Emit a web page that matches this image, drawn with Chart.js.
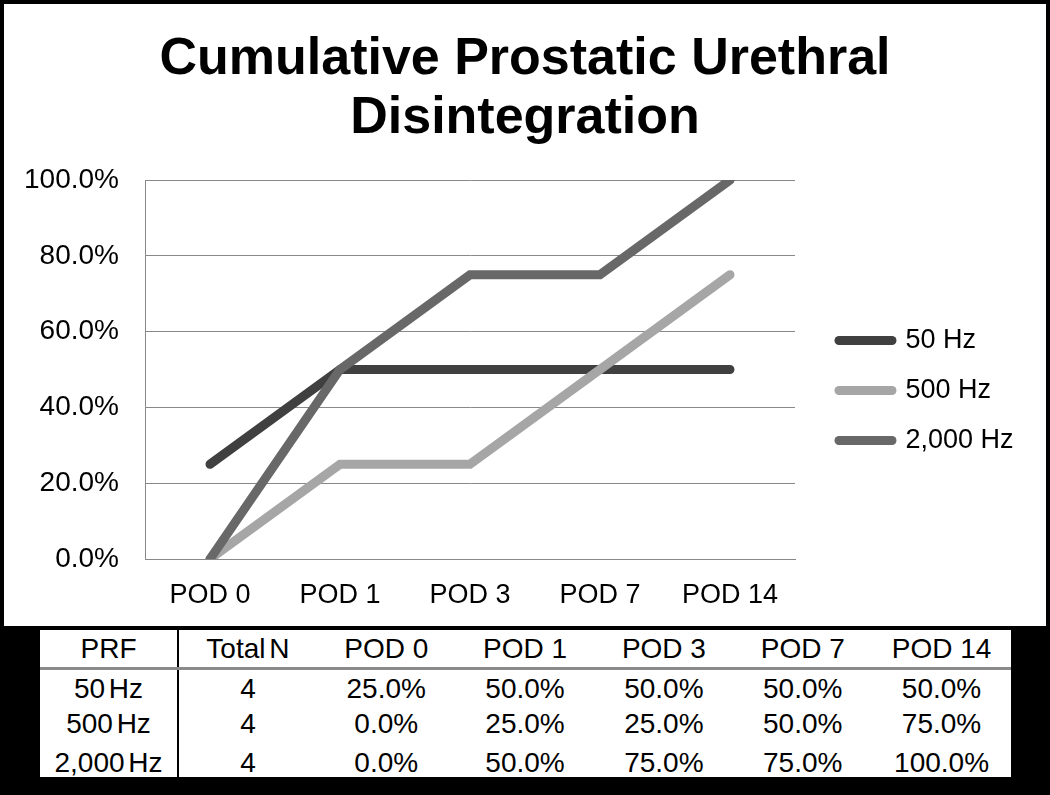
<!DOCTYPE html>
<html><head><meta charset="utf-8">
<script src="https://cdn.jsdelivr.net/npm/chart.js@4.4.1/dist/chart.umd.min.js"></script>
<style>
html,body{margin:0;padding:0;background:#000;width:1050px;height:795px;overflow:hidden;font-family:'Liberation Sans',Arial,sans-serif;}
#panel{position:absolute;left:4px;top:4px;width:1042px;height:622px;background:#fff;}
#tblwrap{position:absolute;left:40px;top:630px;width:971px;height:147px;background:#fff;}
#tbl{width:100%;border-collapse:collapse;table-layout:fixed;font-size:28px;color:#000;}
#tbl td{padding:0;text-align:center;vertical-align:middle;white-space:nowrap;box-sizing:border-box;}
#tbl td.c0,#tbl td.c1{word-spacing:-4px;}
#tbl tr.h td{height:38px;padding-top:2px;border-bottom:3px solid #8a8a8a;}
#tbl tr.r td{height:36px;padding-top:3px;}
#tbl tr.r:last-child td{padding-top:6px;}
#tbl td.c0{border-right:2px solid #000;width:138px;}
</style></head>
<body>
<div id="panel"><canvas id="c" width="1042" height="622"></canvas></div>
<div id="tblwrap"><table id="tbl"></table></div>
<script>
const categories = ['POD 0', 'POD 1', 'POD 3', 'POD 7', 'POD 14'];
const seriesNames = ['50 Hz', '500 Hz', '2,000 Hz'];
const hz50 = [25, 50, 50, 50, 50];
const hz500 = [0, 25, 25, 50, 75];
const hz2000 = [0, 50, 75, 75, 100];
const totalN = [4, 4, 4];
const yTickLabels = ['0.0%', '20.0%', '40.0%', '60.0%', '80.0%', '100.0%'];
const titleLines = ['Cumulative Prostatic Urethral', 'Disintegration'];
const tableHeader = ['PRF', 'Total N'].concat(categories);

const seriesValues = [hz50, hz500, hz2000];
const seriesColors = ['#404040', '#a6a6a6', '#686868'];
const FAMILY = "'Liberation Sans', Arial, sans-serif";

// table built from the same data
(function buildTable() {
  const tbl = document.getElementById('tbl');
  let html = '<tr class="h">' + tableHeader.map((h, i) => '<td class="c' + i + '">' + h + '</td>').join('') + '</tr>';
  seriesNames.forEach((n, si) => {
    html += '<tr class="r"><td class="c0">' + n + '</td><td class="c1">' + totalN[si] + '</td>' +
      seriesValues[si].map(v => '<td>' + v.toFixed(1) + '%</td>').join('') + '</tr>';
  });
  tbl.innerHTML = html;
})();

const placeBoxes = {
  id: 'placeBoxes',
  afterLayout(chart) {
    const t = chart.titleBlock;
    if (t) { t.left = 0; t.right = chart.width; t.width = chart.width; }
    const lg = chart.legend;
    if (lg) {
      lg.left = 812; lg.right = lg.left + lg.width;
      lg.top = 300; lg.height = 300; lg.bottom = lg.top + lg.height;
    }
  }
};

new Chart(document.getElementById('c'), {
  type: 'line',
  data: {
    labels: categories,
    datasets: seriesNames.map((name, i) => ({
      label: name,
      data: seriesValues[i],
      borderColor: seriesColors[i],
      backgroundColor: seriesColors[i],
      borderWidth: 9,
      pointRadius: 0,
      pointHoverRadius: 0,
      tension: 0,
      borderCapStyle: 'round',
      borderJoinStyle: 'miter',
      fill: false,
      clip: 0,
      order: 3 - i
    }))
  },
  options: {
    responsive: false,
    devicePixelRatio: 1,
    animation: false,
    layout: { padding: { left: 0, top: 0, bottom: 0, right: 251 } },
    scales: {
      x: {
        type: 'category',
        offset: true,
        afterFit(s) { s.height = 67; },
        ticks: { padding: 20, color: '#000', font: { size: 27, family: FAMILY }, maxRotation: 0, autoSkip: false },
        grid: { display: false, drawTicks: false },
        border: { display: true, color: '#888', width: 1 }
      },
      y: {
        min: 0, max: 100,
        afterFit(s) { s.width = 141; },
        ticks: { stepSize: 20, padding: 26, color: '#000', font: { size: 28, family: FAMILY },
          callback: (v, idx) => yTickLabels[idx] },
        grid: { color: '#888', lineWidth: 1, drawTicks: false },
        border: { display: true, color: '#888', width: 1 }
      }
    },
    plugins: {
      title: {
        display: true, text: titleLines, color: '#000',
        font: { size: 52, weight: 'bold', family: FAMILY, lineHeight: '59px' },
        padding: { top: 26, bottom: 32 }
      },
      legend: {
        position: 'chartArea', align: 'start',
        labels: {
          usePointStyle: true, pointStyle: 'line', pointStyleWidth: 53,
          font: { size: 27, family: FAMILY }, color: '#000', padding: 23,
          sort: (a, b) => a.datasetIndex - b.datasetIndex,
          generateLabels: (chart) => Chart.defaults.plugins.legend.labels.generateLabels(chart).map(item => Object.assign(item, {
            lineCap: 'round', lineWidth: 9, strokeStyle: seriesColors[item.datasetIndex]
          }))
        }
      },
      tooltip: { enabled: false }
    }
  },
  plugins: [placeBoxes]
});
</script>
</body></html>
